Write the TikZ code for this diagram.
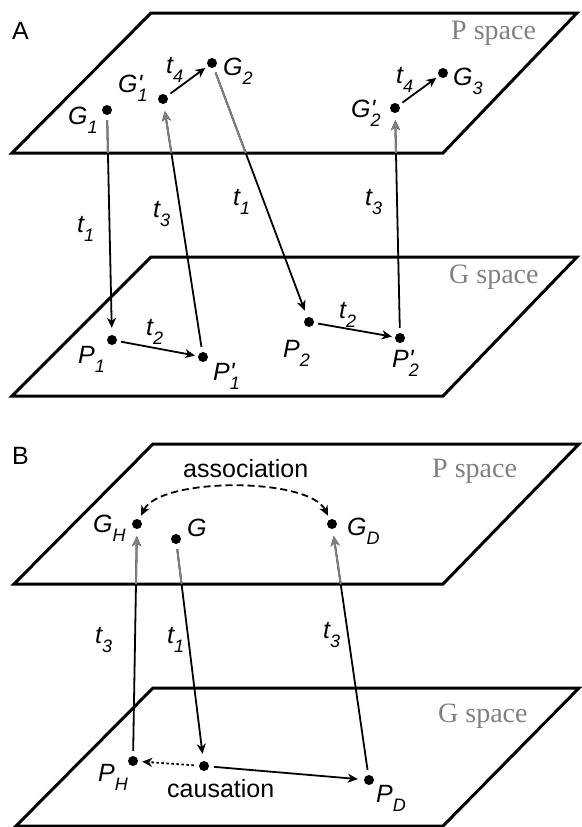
\documentclass[tikz,border=0pt]{standalone}
\usepackage{fontspec}
\setmainfont{Liberation Sans}
\newfontfamily\serf{Liberation Serif}
\usetikzlibrary{arrows.meta}
\definecolor{lgray}{RGB}{128,128,128}
\newcommand{\sbs}[1]{\raisebox{-9pt}{\fontsize{18}{18}\selectfont #1}}
\newcommand{\prm}{\rlap{\textquotesingle}}
\newcommand{\connA}[1]{%
  \draw[arr,#1] (G1) -- (P1);
  \draw[arr,#1] (P1p) -- (G1p);
  \draw[arr,#1] (G2) -- (P2);
  \draw[arr,#1] (P2p) -- (G2p);}
\newcommand{\connB}[1]{%
  \draw[arr,#1] (PH) -- (GH);
  \draw[arr,#1] (G) -- (C);
  \draw[arr,#1] (PD) -- (GD);}
\begin{document}
\begin{tikzpicture}[x=1pt,y=-1pt,
 plane/.style={line width=3pt, line join=miter},
 dot/.style={circle,fill=black,inner sep=0pt,minimum size=10pt},
 lab/.style={anchor=base west, inner sep=0pt, font=\fontsize{25}{25}\selectfont\itshape},
 txt/.style={anchor=base west, inner sep=0pt, font=\fontsize{25}{25}\selectfont},
 spc/.style={anchor=base west, inner sep=0pt, text=lgray, font=\fontsize{28}{28}\selectfont\serf},
 tip/.style={-{Stealth[length=10pt,width=9pt,inset=3pt]}},
 arr/.style={line width=1.8pt, tip, shorten >=7pt, shorten <=5pt},
 sarr/.style={line width=1.8pt, tip, shorten >=3pt, shorten <=4pt},
]
\useasboundingbox (0,0) rectangle (581,827);
% planes
\draw[plane] (12,153) -- (443,153) -- (577,13) -- (151,13) -- cycle;
\draw[plane] (12,396) -- (443,396) -- (577,257) -- (151,257) -- cycle;
\draw[plane] (14,584) -- (443,584) -- (579,444) -- (153,444) -- cycle;
\draw[plane] (16,826) -- (443,826) -- (579,688) -- (153,688) -- cycle;

% panel A dots
\node[dot] (G1) at (107,110) {};
\node[dot] (G1p) at (163,99) {};
\node[dot] (G2) at (212,63) {};
\node[dot] (G2p) at (395,108) {};
\node[dot] (G3) at (443,73) {};
\node[dot] (P1) at (112,340) {};
\node[dot] (P1p) at (203,357) {};
\node[dot] (P2) at (309,322) {};
\node[dot] (P2p) at (400,338) {};

% panel B dots
\node[dot] (GH) at (137,524) {};
\node[dot] (G) at (176,539) {};
\node[dot] (GD) at (332,524) {};
\node[dot] (PH) at (133,761) {};
\node[dot] (C) at (204,766) {};
\node[dot] (PD) at (369,780) {};

% inter-plane connectors: black, then grey inside P plane
\connA{black}
\connB{black}
\begin{scope}
\clip (12,153) -- (443,153) -- (577,13) -- (151,13) -- cycle;
\connA{lgray}
\end{scope}
\begin{scope}
\clip (14,584) -- (443,584) -- (579,444) -- (153,444) -- cycle;
\connB{lgray}
\end{scope}

% in-plane connectors
\draw[sarr] (G1p) -- (G2);
\draw[sarr] (G2p) -- (G3);
\draw[sarr] (P1) -- (P1p);
\draw[sarr] (P2) -- (P2p);
\draw[line width=1.8pt, dash pattern=on 7pt off 4pt, {Stealth[length=10pt,width=9pt,inset=3pt]}-{Stealth[length=10pt,width=9pt,inset=3pt]}, shorten >=4pt, shorten <=4pt]
  (GH) .. controls (160,477) and (309,477) .. (GD);
\draw[line width=1.8pt, dash pattern=on 2.5pt off 2.5pt, tip, shorten >=4pt, shorten <=5pt] (C) -- (PH);
\draw[line width=1.8pt, tip, shorten >=6pt, shorten <=5pt] (C) -- (PD);

% panel A labels
\node[txt] (lA) at (12,39) {A};
\node[spc] (psA) at (451,39) {P space};
\node[spc] (gsA) at (449,283) {G space};
\node[lab] (lG1) at (68,124) {G\sbs{1}};
\node[lab] (lG1p) at (118,92) {G\prm\sbs{1}};
\node[lab] (lt4a) at (166,73) {t\sbs{4}};
\node[lab] (lG2) at (223,75) {G\sbs{2}};
\node[lab] (lt4b) at (396,83) {t\sbs{4}};
\node[lab] (lG3) at (453,85) {G\sbs{3}};
\node[lab] (lG2p) at (351,117) {G\prm\sbs{2}};
\node[lab] (lt1a) at (77,232) {t\sbs{1}};
\node[lab] (lt3a) at (153,217) {t\sbs{3}};
\node[lab] (lt1b) at (233,205) {t\sbs{1}};
\node[lab] (lt3b) at (365,205) {t\sbs{3}};
\node[lab] (lt2a) at (146,335) {t\sbs{2}};
\node[lab] (lt2b) at (339,318) {t\sbs{2}};
\node[lab] (lP1) at (78,363) {P\sbs{1}};
\node[lab] (lP1p) at (213,380) {P\prm\sbs{1}};
\node[lab] (lP2) at (283,357) {P\sbs{2}};
\node[lab] (lP2p) at (392,367) {P\prm\sbs{2}};

% panel B labels
\node[txt] (lB) at (12,464) {B};
\node[txt] (assoc) at (183,477) {association};
\node[spc] (psB) at (432,477) {P space};
\node[spc] (gsB) at (438,722) {G space};
\node[lab] (lGH) at (93,532) {G\sbs{H}};
\node[lab] (lG) at (187,536) {G};
\node[lab] (lGD) at (347,535) {G\sbs{D}};
\node[lab] (lt3c) at (95,643) {t\sbs{3}};
\node[lab] (lt1c) at (167,643) {t\sbs{1}};
\node[lab] (lt3d) at (323,638) {t\sbs{3}};
\node[lab] (lPH) at (98,781) {P\sbs{H}};
\node[txt] (caus) at (167,797) {causation};
\node[lab] (lPD) at (376,802) {P\sbs{D}};
\end{tikzpicture}
\end{document}
